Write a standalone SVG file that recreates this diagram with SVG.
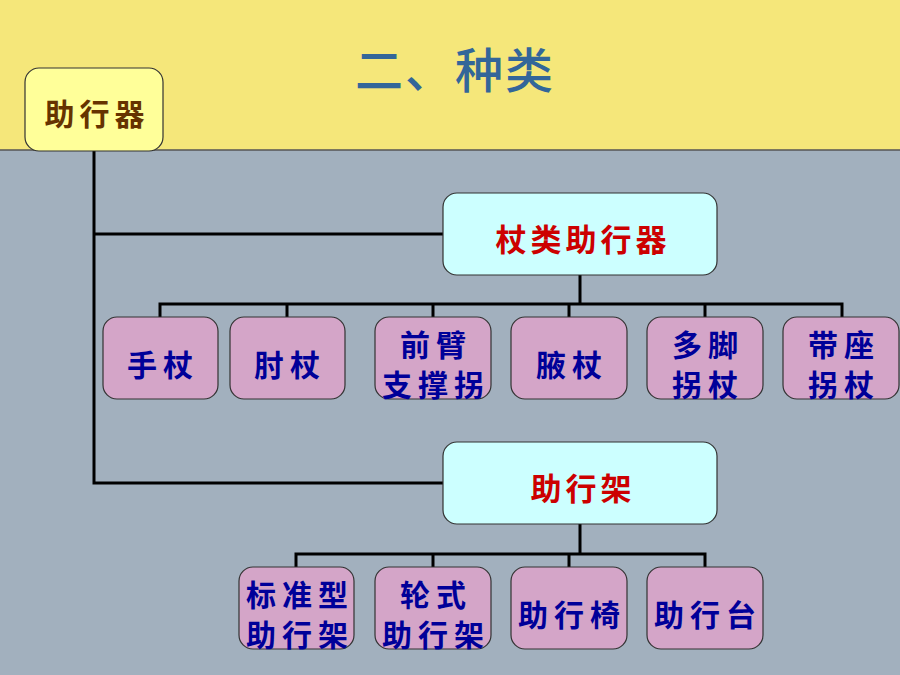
<svg xmlns="http://www.w3.org/2000/svg" width="900" height="675" viewBox="0 0 900 675">
<style>
text{font-family:"Noto Sans CJK SC","Noto Sans",sans-serif;text-anchor:middle}
.t{font-size:48px;fill:#336699;font-weight:500;letter-spacing:2px}
.root rect{fill:#FFFF99;stroke:#333;stroke-width:1.2}
.root text{fill:#663300;font-size:30px;font-weight:bold;letter-spacing:5px}
.cat rect{fill:#CCFFFF;stroke:#333;stroke-width:1.2}
.cat text{fill:#CC0000;font-size:31px;font-weight:bold;letter-spacing:4px}
.leaf rect{fill:#D4A5C8;stroke:#333;stroke-width:1.2}
.leaf text{fill:#000099;font-size:30px;font-weight:bold;letter-spacing:6px}
.con{fill:none;stroke:#000;stroke-width:3}
</style>
<rect x="0" y="0" width="900" height="150" fill="#F5E77A"/>
<rect x="0" y="150" width="900" height="525" fill="#A2B0BE"/>
<line x1="0" y1="150" x2="900" y2="150" stroke="#555" stroke-width="1.5"/>
<text class="t" x="455" y="88">二、种类</text>
<g id="connectors" class="con">
<polyline points="94,150 94,483 443,483"/>
<line x1="94" y1="234" x2="443" y2="234"/>
<line x1="580" y1="274" x2="580" y2="304"/>
<polyline points="160,317 160,304 842,304 842,317"/>
<line x1="287" y1="304" x2="287" y2="317"/>
<line x1="433" y1="304" x2="433" y2="317"/>
<line x1="569" y1="304" x2="569" y2="317"/>
<line x1="705" y1="304" x2="705" y2="317"/>
<line x1="580" y1="523" x2="580" y2="554"/>
<polyline points="296,567 296,554 705,554 705,567"/>
<line x1="433" y1="554" x2="433" y2="567"/>
<line x1="569" y1="554" x2="569" y2="567"/>
</g>
<g id="root" class="root"><rect x="25" y="68" width="138" height="83" rx="14"/><text x="97" y="125">助行器</text></g>
<g id="cane" class="cat"><rect x="443" y="193" width="274" height="82" rx="14"/><text x="583" y="251">杖类助行器</text></g>
<g id="frame" class="cat"><rect x="443" y="442" width="274" height="82" rx="14"/><text x="583" y="500">助行架</text></g>
<g id="n1" class="leaf"><rect x="103" y="317" width="115" height="82" rx="14"/><text x="163" y="376">手杖</text></g>
<g id="n2" class="leaf"><rect x="230" y="317" width="115" height="82" rx="14"/><text x="290" y="376">肘杖</text></g>
<g id="n3" class="leaf"><rect x="375" y="317" width="116" height="82" rx="14"/><text x="436" y="356">前臂</text><text x="436" y="396">支撑拐</text></g>
<g id="n4" class="leaf"><rect x="511" y="317" width="116" height="82" rx="14"/><text x="572" y="376">腋杖</text></g>
<g id="n5" class="leaf"><rect x="647" y="317" width="116" height="82" rx="14"/><text x="708" y="356">多脚</text><text x="708" y="396">拐杖</text></g>
<g id="n6" class="leaf"><rect x="783" y="317" width="116" height="82" rx="14"/><text x="844" y="356">带座</text><text x="844" y="396">拐杖</text></g>
<g id="m1" class="leaf"><rect x="239" y="567" width="115" height="82" rx="14"/><text x="300" y="606">标准型</text><text x="300" y="646">助行架</text></g>
<g id="m2" class="leaf"><rect x="375" y="567" width="116" height="82" rx="14"/><text x="436" y="606">轮式</text><text x="436" y="646">助行架</text></g>
<g id="m3" class="leaf"><rect x="511" y="567" width="116" height="82" rx="14"/><text x="572" y="626">助行椅</text></g>
<g id="m4" class="leaf"><rect x="647" y="567" width="116" height="82" rx="14"/><text x="708" y="626">助行台</text></g>
</svg>
